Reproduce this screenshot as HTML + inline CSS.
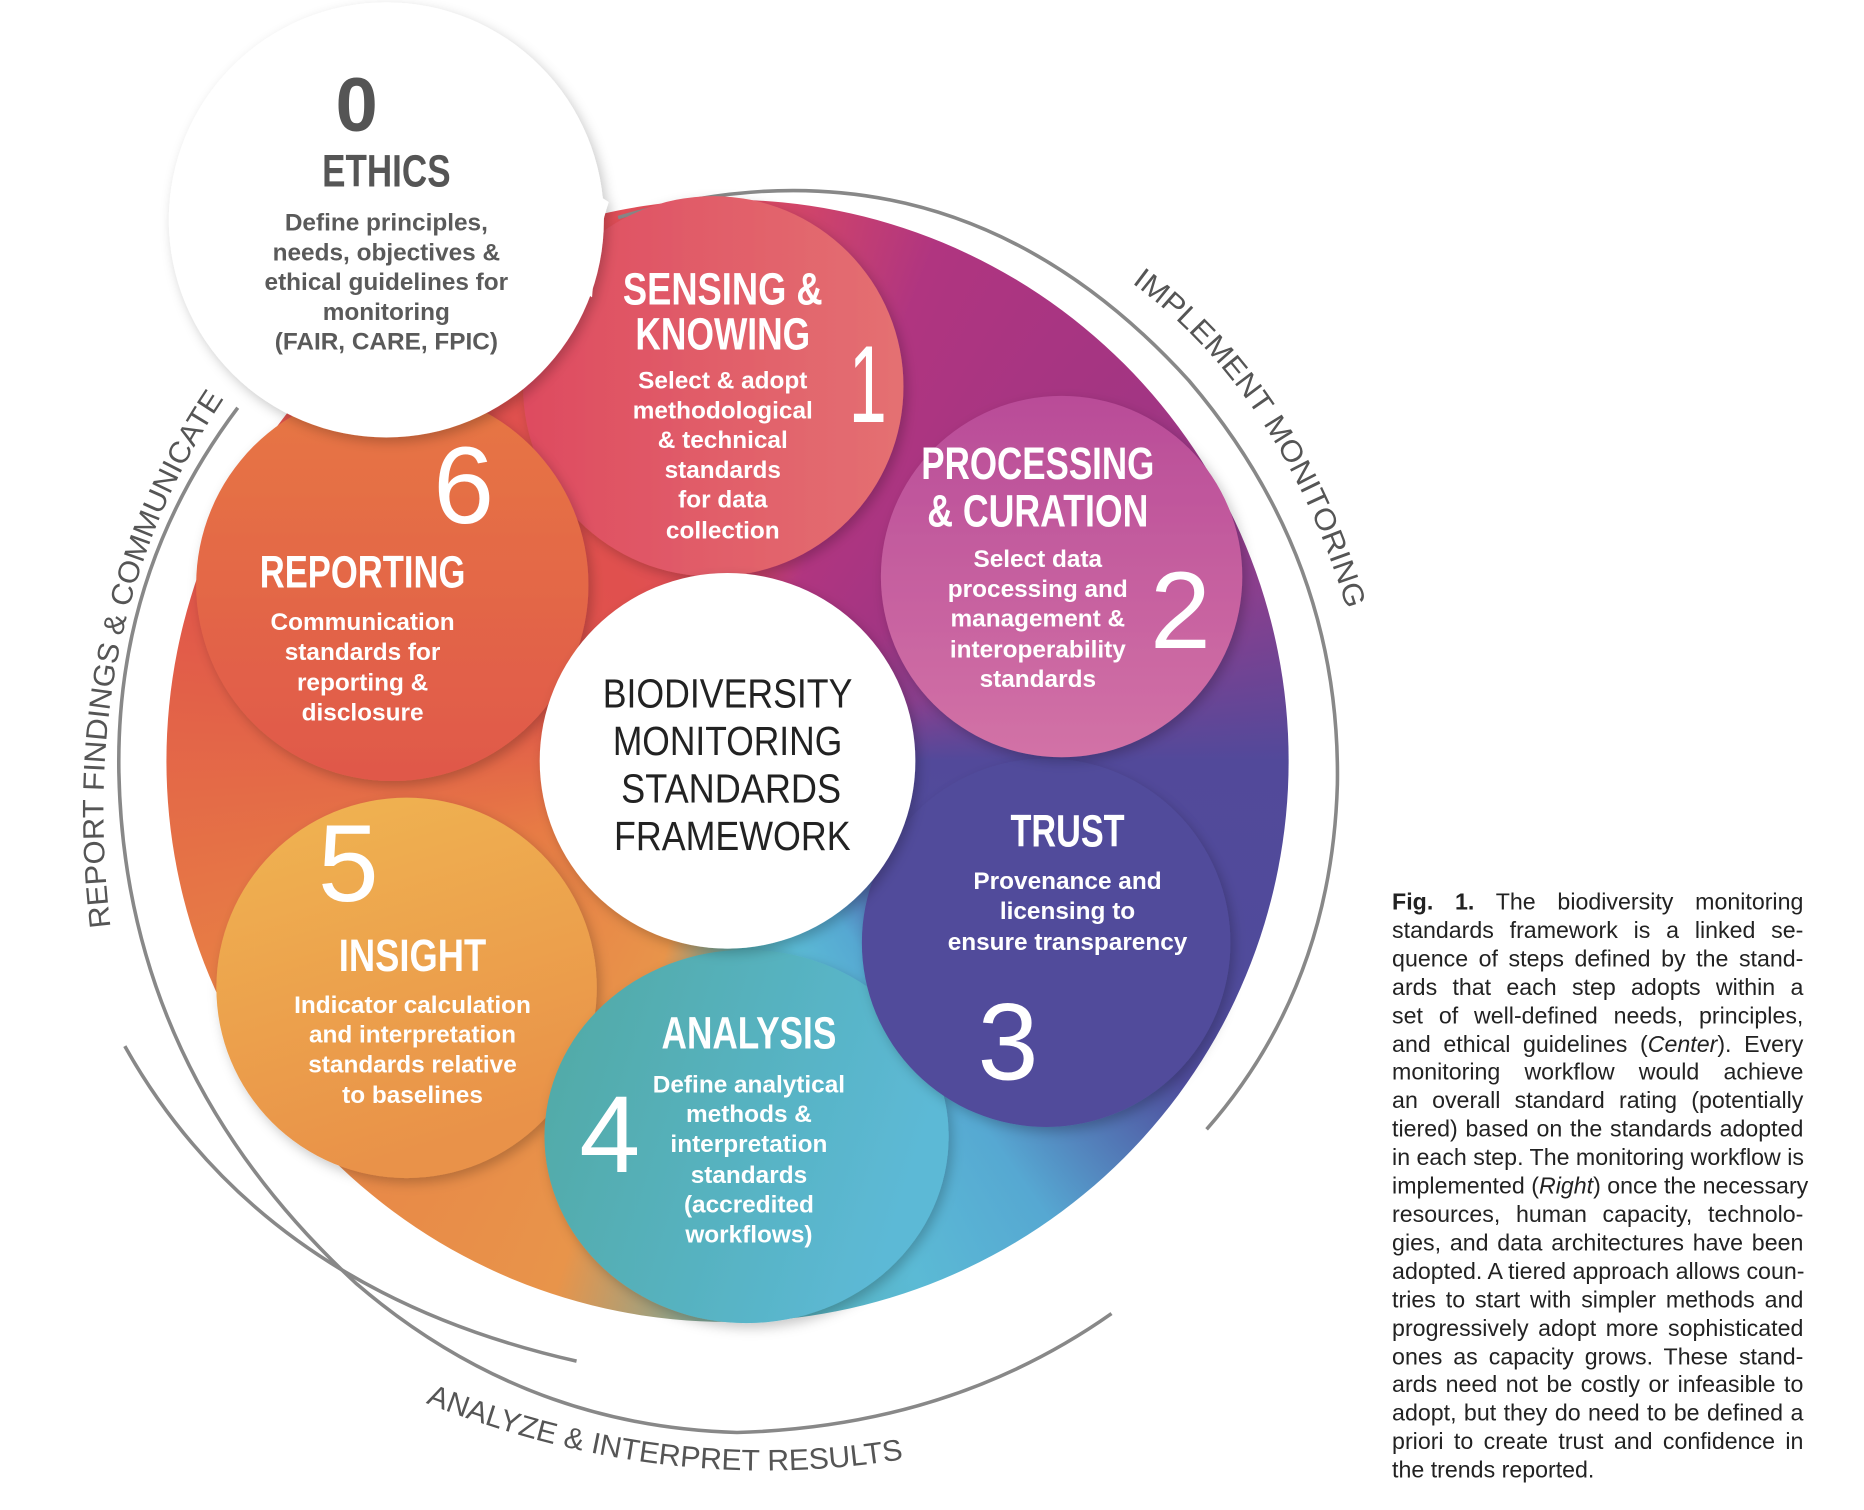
<!DOCTYPE html>
<html><head><meta charset="utf-8">
<style>
html,body{margin:0;padding:0;background:#fff;}
#wrap{position:relative;width:1568px;height:1270px;transform:scale(1.18878);transform-origin:0 0;overflow:hidden;background:#fff;}
#disc{position:absolute;left:140px;top:168px;width:944px;height:944px;border-radius:50%;
background:conic-gradient(from 0deg at 50% 50%,#e24d5d 0deg,#b03580 22deg,#a23583 50deg,#8a3f8e 72deg,#52499a 90deg,#4f4c9c 125deg,#56a8d2 145deg,#5bbad5 160deg,#55b0b8 176deg,#e8944a 198deg,#e77b45 250deg,#e0544a 290deg,#e0504e 330deg,#e24d5d 360deg);}
svg{position:absolute;left:0;top:0;}
#cap{position:absolute;left:1171px;top:748px;width:346px;font-family:"Liberation Sans",sans-serif;font-size:19.5px;line-height:23.9px;color:#222;}
#cap div{text-align:justify;text-align-last:justify;white-space:nowrap;}
#cap div.l{text-align-last:left;}
</style></head><body>
<div id="wrap">
<div id="disc"></div>
<svg width="1568" height="1270" viewBox="0 0 1568 1270">
<defs>
<linearGradient id="g1" x1="0" y1="0" x2="1" y2="0"><stop offset="0" stop-color="#de4b60"/><stop offset="1" stop-color="#e47072"/></linearGradient>
<linearGradient id="g2" x1="0" y1="0" x2="0" y2="1"><stop offset="0" stop-color="#b94c98"/><stop offset="1" stop-color="#d272a6"/></linearGradient>
<linearGradient id="g4" x1="0" y1="0" x2="1" y2="0.3"><stop offset="0" stop-color="#50a9a3"/><stop offset="1" stop-color="#5cb9d6"/></linearGradient>
<linearGradient id="g5" x1="0" y1="0" x2="0.3" y2="1"><stop offset="0" stop-color="#f0b552"/><stop offset="1" stop-color="#e99249"/></linearGradient>
<linearGradient id="g6" x1="0" y1="0" x2="0" y2="1"><stop offset="0" stop-color="#e77743"/><stop offset="1" stop-color="#e0584a"/></linearGradient>
<filter id="sh" x="-20%" y="-20%" width="140%" height="140%"><feDropShadow dx="3" dy="4" stdDeviation="5" flood-color="#000" flood-opacity="0.22"/></filter>
<path id="pImp" d="M952,238 Q1090,340 1142,545"/>
<path id="pRep" d="M93,780 Q62,520 192,330"/>
<path id="pAna" d="M358,1180 Q565,1262 768,1226"/>
</defs>
<g fill="none" stroke="#888" stroke-width="3">
<path d="M520,183 Q800,100 1000,320 Q1128,470 1125,660 Q1120,830 1015,950"/>
<path d="M200,343 Q97,480 100,650 Q105,900 300,1080 Q440,1200 620,1205 Q800,1200 935,1105"/>
<path d="M105,880 Q220,1085 485,1145"/>
</g>
<circle cx="600" cy="325" r="160" fill="url(#g1)" filter="url(#sh)"/>
<circle cx="330" cy="492" r="165" fill="url(#g6)" filter="url(#sh)"/>
<circle cx="342" cy="831" r="160" fill="url(#g5)" filter="url(#sh)"/>
<ellipse cx="628" cy="956" rx="170" ry="157" fill="url(#g4)" filter="url(#sh)"/>
<circle cx="880" cy="793" r="155" fill="#514c9b" filter="url(#sh)"/>
<circle cx="893" cy="485" r="152" fill="url(#g2)" filter="url(#sh)"/>
<circle cx="612" cy="640" r="158" fill="#fff" filter="url(#sh)"/>
<g filter="url(#sh)" fill="#fff">
<circle cx="325" cy="185" r="183"/>
<path d="M415,35 Q455,135 512,170 Q502,200 498,250 L420,200 Z"/>
</g>
<g font-family="Liberation Sans, sans-serif" text-anchor="middle">
<text x="300" y="110" font-size="64" font-weight="bold" fill="#555">0</text>
<text x="325" y="157" font-size="38" font-weight="bold" fill="#555" textLength="108" lengthAdjust="spacingAndGlyphs">ETHICS</text>
<g font-size="20.5" font-weight="bold" fill="#5a5a5a">
<text x="325" y="194">Define principles,</text>
<text x="325" y="219">needs, objectives &amp;</text>
<text x="325" y="244">ethical guidelines for</text>
<text x="325" y="269">monitoring</text>
<text x="325" y="294">(FAIR, CARE, FPIC)</text>
</g>
<g fill="#fff" font-weight="bold" font-size="38">
<text x="608" y="256" textLength="168" lengthAdjust="spacingAndGlyphs">SENSING &amp;</text>
<text x="608" y="294" textLength="147" lengthAdjust="spacingAndGlyphs">KNOWING</text>
<text x="873" y="403" textLength="196" lengthAdjust="spacingAndGlyphs">PROCESSING</text>
<text x="873" y="443" textLength="186" lengthAdjust="spacingAndGlyphs">&amp; CURATION</text>
<text x="898" y="712" textLength="96" lengthAdjust="spacingAndGlyphs">TRUST</text>
<text x="630" y="882" textLength="147" lengthAdjust="spacingAndGlyphs">ANALYSIS</text>
<text x="347" y="817" textLength="124" lengthAdjust="spacingAndGlyphs">INSIGHT</text>
<text x="305" y="494" textLength="173" lengthAdjust="spacingAndGlyphs">REPORTING</text>
</g>
<g fill="#fff" font-size="92">
<text x="730" y="355" textLength="32" lengthAdjust="spacingAndGlyphs">1</text>
<text x="993" y="545">2</text>
<text x="848" y="908">3</text>
<text x="513" y="986">4</text>
<text x="293" y="758">5</text>
<text x="390" y="440">6</text>
</g>
<g fill="#fff" font-size="20.5" font-weight="bold">
<text x="608" y="327">Select &amp; adopt</text>
<text x="608" y="352">methodological</text>
<text x="608" y="377">&amp; technical</text>
<text x="608" y="402">standards</text>
<text x="608" y="427">for data</text>
<text x="608" y="453">collection</text>
<text x="873" y="477">Select data</text>
<text x="873" y="502">processing and</text>
<text x="873" y="527">management &amp;</text>
<text x="873" y="553">interoperability</text>
<text x="873" y="578">standards</text>
<text x="898" y="748">Provenance and</text>
<text x="898" y="773">licensing to</text>
<text x="898" y="799">ensure transparency</text>
<text x="630" y="919">Define analytical</text>
<text x="630" y="944">methods &amp;</text>
<text x="630" y="969">interpretation</text>
<text x="630" y="995">standards</text>
<text x="630" y="1020">(accredited</text>
<text x="630" y="1045">workflows)</text>
<text x="347" y="852">Indicator calculation</text>
<text x="347" y="877">and interpretation</text>
<text x="347" y="902">standards relative</text>
<text x="347" y="928">to baselines</text>
<text x="305" y="530">Communication</text>
<text x="305" y="555">standards for</text>
<text x="305" y="581">reporting &amp;</text>
<text x="305" y="606">disclosure</text>
</g>
<g fill="#222" font-size="34">
<text x="612" y="595" textLength="210" lengthAdjust="spacingAndGlyphs">BIODIVERSITY</text>
<text x="612" y="635" textLength="193" lengthAdjust="spacingAndGlyphs">MONITORING</text>
<text x="615" y="675" textLength="185" lengthAdjust="spacingAndGlyphs">STANDARDS</text>
<text x="616" y="715" textLength="199" lengthAdjust="spacingAndGlyphs">FRAMEWORK</text>
</g>
</g>
<g font-family="Liberation Sans, sans-serif" font-size="25" fill="#555">
<text><textPath href="#pImp" textLength="335" lengthAdjust="spacingAndGlyphs">IMPLEMENT MONITORING</textPath></text>
<text><textPath href="#pRep" textLength="465" lengthAdjust="spacingAndGlyphs">REPORT FINDINGS &amp; COMMUNICATE</textPath></text>
<text><textPath href="#pAna" textLength="410" lengthAdjust="spacingAndGlyphs">ANALYZE &amp; INTERPRET RESULTS</textPath></text>
</g>
</svg>
<div id="cap">
<div><b>Fig. 1.</b> The biodiversity monitoring</div>
<div>standards framework is a linked se-</div>
<div>quence of steps defined by the stand-</div>
<div>ards that each step adopts within a</div>
<div>set of well-defined needs, principles,</div>
<div>and ethical guidelines (<i>Center</i>). Every</div>
<div>monitoring workflow would achieve</div>
<div>an overall standard rating (potentially</div>
<div>tiered) based on the standards adopted</div>
<div>in each step. The monitoring workflow is</div>
<div>implemented (<i>Right</i>) once the necessary</div>
<div>resources, human capacity, technolo-</div>
<div>gies, and data architectures have been</div>
<div>adopted. A tiered approach allows coun-</div>
<div>tries to start with simpler methods and</div>
<div>progressively adopt more sophisticated</div>
<div>ones as capacity grows. These stand-</div>
<div>ards need not be costly or infeasible to</div>
<div>adopt, but they do need to be defined a</div>
<div>priori to create trust and confidence in</div>
<div class="l">the trends reported.</div>
</div>
</div>
</body></html>
